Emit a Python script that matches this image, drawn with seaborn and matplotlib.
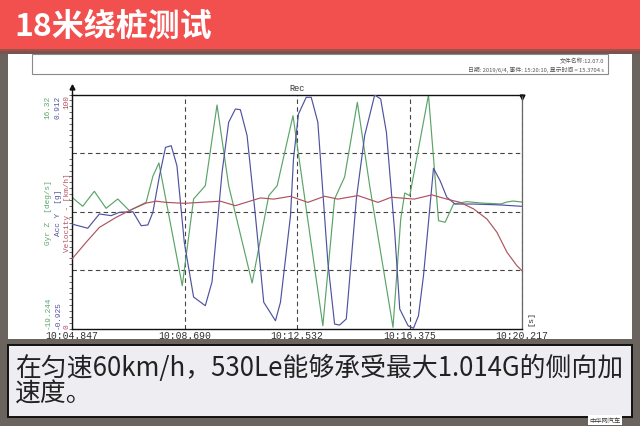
import matplotlib
matplotlib.use("Agg")
import matplotlib.pyplot as plt
import seaborn as sns
import numpy as np
from matplotlib.patches import Rectangle
from matplotlib.ticker import FixedLocator

# ---------------- data ----------------
title = "18米绕桩测试"
caption_l1 = "在匀速60km/h，530Le能够承受最大1.014G的侧向加"
caption_l2 = "速度。"
header_l1 = "文件名称:12.07.0"
header_l2 = "日期: 2019/6/4, 事件: 15:20:10, 显示时间 = 15.3704 s"

x_ticks = [4.847, 8.690, 12.532, 16.375, 20.217]
x_tick_labels = ["10:04.847", "10:08.690", "10:12.532", "10:16.375", "10:20.217"]

gyr_range = [-19.244, 16.32]
acc_range = [-0.925, 0.912]
vel_range = [0, 100]
gyr_end_labels = ["-19.244", "16.32"]
acc_end_labels = ["-0.925", "0.912"]
vel_end_labels = ["0", "100"]

gyr_t = [4.847, 5.213, 5.610, 6.011, 6.411, 6.808, 7.380, 7.609, 7.815, 8.613,
         9.000, 9.400, 9.800, 10.198, 10.999, 11.567, 11.855, 12.395, 13.415, 13.816,
         14.158, 14.593, 15.014, 15.811, 16.075, 16.212, 16.383, 17.023, 17.366, 17.591,
         17.879, 18.334, 18.814, 19.498, 19.703, 19.909, 20.217]
gyr_v = [0.70, -0.67, 1.61, -0.98, 0.44, -1.34, -0.06, 3.89, 5.91, -12.74,
         0.44, 2.46, 14.72, 2.46, -12.33, 0.94, 2.46, 13.10, -18.82, 0.44,
         3.78, 15.13, 2.46, -19.06, -2.60, 1.35, 0.94, 16.24, -2.86, -3.10,
         -0.32, 0.03, -0.17, -0.32, -0.02, 0.13, -0.02]

acc_t = [4.847, 5.384, 5.782, 6.182, 6.466, 6.925, 7.209, 7.438, 7.609, 7.836,
         8.041, 8.236, 8.431, 8.681, 9.000, 9.400, 9.629, 9.972, 10.198, 10.427,
         10.598, 10.827, 11.111, 11.396, 11.796, 11.967, 12.310, 12.412, 12.583, 12.847,
         13.018, 13.244, 13.586, 13.816, 13.987, 14.216, 14.559, 14.843, 15.185, 15.390,
         15.586, 15.870, 16.041, 16.325, 16.510, 16.681, 16.852, 17.023, 17.194, 17.420,
         17.650, 17.934, 18.564, 19.474, 20.217]
acc_v = [-0.105, -0.138, -0.026, -0.039, -0.013, -0.008, -0.118, -0.112, -0.013, 0.275,
         0.497, 0.510, 0.353, -0.246, -0.678, -0.746, -0.560, 0.301, 0.694, 0.798,
         0.793, 0.589, -0.039, -0.719, -0.864, -0.719, -0.039, 0.406, 0.759, 0.890,
         0.890, 0.694, -0.405, -0.890, -0.898, -0.850, 0.092, 0.589, 0.908, 0.877,
         0.615, -0.170, -0.772, -0.903, -0.923, -0.825, -0.511, -0.091, 0.333, 0.235,
         0.105, 0.052, 0.052, 0.045, 0.034]

vel_t = [4.847, 5.326, 5.781, 6.353, 6.925, 7.380, 7.723, 8.065, 8.691, 9.229,
         9.913, 10.427, 11.283, 11.738, 12.310, 12.902, 13.474, 13.929, 14.614, 15.298,
         15.757, 16.531, 17.137, 17.650, 18.105, 18.564, 19.019, 19.361, 19.703, 20.045,
         20.217]
vel_v = [29.7, 36.8, 43.2, 47.5, 51.1, 53.6, 54.4, 53.9, 53.5, 53.9,
         54.4, 52.5, 55.8, 55.3, 56.5, 53.9, 56.5, 55.3, 56.8, 53.9,
         56.1, 55.3, 57.1, 55.3, 53.9, 51.1, 46.8, 41.1, 32.6, 26.8,
         24.7]

# ---------------- style ----------------
sns.set_style("white")
plt.rcParams["font.family"] = ["Noto Sans CJK SC", "DejaVu Sans"]

W, H = 640, 427
GREEN = "#5aa468"
BLUE = "#4f52a0"
RED = "#b0525e"
GRAYBG = "#6b635d"
MONO = ["Liberation Mono", "DejaVu Sans Mono"]

fig = plt.figure(figsize=(6.4, 4.27), dpi=100)
fig.patch.set_facecolor(GRAYBG)


def rect(x0, y0, x1, y1, z=1, **kw):
    r = Rectangle((x0 / W, 1 - y1 / H), (x1 - x0) / W, (y1 - y0) / H,
                  transform=fig.transFigure, zorder=z, **kw)
    fig.patches.append(r)
    return r


def fx(px):
    return px / W


def fy(py):
    return 1 - py / H


# white panel (behind the axes)
rect(8, 55, 632, 340, z=-5, facecolor="white", edgecolor="none")

# banner
rect(0, 0, 640, 52, z=3, facecolor="#f24f4f", edgecolor="none")
rect(0, 50, 640, 55, z=3, facecolor="#7d5049", edgecolor="none", alpha=0.7)
fig.text(fx(14), fy(27), title, color="white", fontsize=23, fontweight="bold",
         va="center", ha="left", zorder=4)

rect(32, 55, 608, 75, z=2, facecolor="none", edgecolor="#8a8a8a", linewidth=0.8)
fig.text(fx(604), fy(61.5), header_l1, fontsize=4.2, color="#555", ha="right", va="center")
fig.text(fx(604), fy(69.5), header_l2, fontsize=4.2, color="#555", ha="right", va="center")

# gray strip below the panel (clips the tick labels like the screenshot)
rect(0, 340, 640, 427, z=3, facecolor=GRAYBG, edgecolor="none")

# caption box
rect(8, 346, 632, 418, z=4, facecolor="#eeeef2", edgecolor="#111", linewidth=1.4)
fig.text(fx(15), fy(368), caption_l1, fontsize=18.6, color="#222", ha="left", va="center",
         fontweight="light", zorder=5)
fig.text(fx(15), fy(394), caption_l2, fontsize=18.6, color="#222", ha="left", va="center",
         fontweight="light", zorder=5)
fig.text(fx(605), fy(421), "中华网汽车", fontsize=4.5, color="#333", ha="center", va="center",
         zorder=5, bbox=dict(facecolor="white", edgecolor="none", pad=0.8))

# ---------------- plot ----------------
ax_l, ax_r, ax_t, ax_b = 72, 522, 95.5, 329.5
ax = fig.add_axes([fx(ax_l), fy(ax_b), (ax_r - ax_l) / W, (ax_b - ax_t) / H])
ax.set_facecolor("white")
ax2 = ax.twinx()
ax3 = ax.twinx()

sns.lineplot(x=vel_t, y=vel_v, ax=ax3, color=RED, linewidth=0.85, sort=False, estimator=None)
sns.lineplot(x=gyr_t, y=gyr_v, ax=ax, color=GREEN, linewidth=0.85, sort=False, estimator=None)
sns.lineplot(x=acc_t, y=acc_v, ax=ax2, color=BLUE, linewidth=0.85, sort=False, estimator=None)

ax.set_xlim(x_ticks[0], x_ticks[-1])
ax.set_ylim(*gyr_range)
ax2.set_ylim(*acc_range)
ax3.set_ylim(*vel_range)
for a in (ax2, ax3):
    a.axis("off")

g0, g1 = gyr_range
quart = [g0 + (g1 - g0) * k / 4 for k in (1, 2, 3)]
ax.set_yticks(quart)
ax.set_yticklabels([])
ax.yaxis.set_minor_locator(FixedLocator(np.linspace(g0, g1, 41)))
ax.tick_params(axis="y", which="major", length=0)
ax.tick_params(axis="y", which="minor", length=2, width=0.6, color="#555", direction="out")

ax.set_xticks(x_ticks)
ax.set_xticklabels(x_tick_labels, fontsize=7, color="#333", family=MONO)
step = (x_ticks[1] - x_ticks[0]) / 5
ax.xaxis.set_minor_locator(FixedLocator(np.arange(x_ticks[0], x_ticks[-1] + 1e-6, step)))
ax.tick_params(axis="x", which="major", length=3, width=0.7, color="#333", pad=1.2,
               direction="in")
ax.tick_params(axis="x", which="minor", length=2, width=0.6, color="#555", direction="in")
ax.set_xlabel("")
ax.set_ylabel("")

ax.grid(True, which="major", linestyle=(0, (4, 3)), color="#444", linewidth=0.8)
ax.set_axisbelow(True)

for side in ("left", "bottom", "top"):
    ax.spines[side].set_color("#111")
    ax.spines[side].set_linewidth(1.0)
ax.spines["right"].set_color("#666")
ax.spines["right"].set_linewidth(0.9)

# axis arrow and corner marker
ax.plot([0, 0], [1, 1.032], transform=ax.transAxes, color="#111", lw=1.0, clip_on=False)
ax.plot([0], [1.032], transform=ax.transAxes, marker="^", color="#111", markersize=3.5,
        clip_on=False)
ax.plot([1], [0.99], transform=ax.transAxes, marker="v", color="#111", markersize=3.5,
        clip_on=False)

ax.text(0.5, 1.01, "Rec", transform=ax.transAxes, ha="center", va="bottom",
        fontsize=6.2, color="#333", family=MONO)
ax.text(1.012, 0.015, "[s]", transform=ax.transAxes, ha="left", va="bottom",
        fontsize=6, color="#333", rotation=90, family=MONO)

# y labels (three scales)
cols = [(-0.053, GREEN, gyr_end_labels, "Gyr Z  [deg/s]"),
        (-0.030, BLUE, acc_end_labels, "Acc Y  [g]"),
        (-0.011, RED, vel_end_labels, "Velocity - [km/h]")]
for xa, c, ends, lab in cols:
    ax.text(xa, 0.0, ends[0], transform=ax.transAxes, rotation=90, ha="center",
            va="bottom", fontsize=5.6, color=c, family=MONO)
    ax.text(xa, 1.0, ends[1], transform=ax.transAxes, rotation=90, ha="center",
            va="top", fontsize=5.6, color=c, family=MONO)
    ax.text(xa, 0.5, lab, transform=ax.transAxes, rotation=90, ha="center",
            va="center", fontsize=5.6, color=c, family=MONO)

fig.savefig("out.png", dpi=100, facecolor=fig.get_facecolor())
